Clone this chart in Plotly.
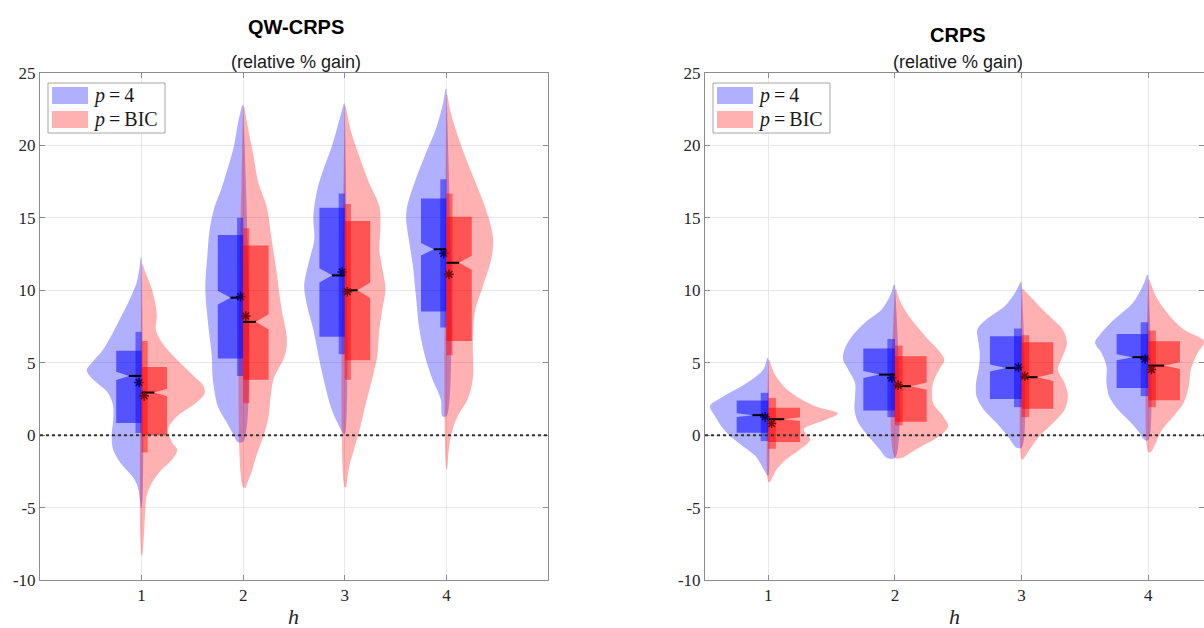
import plotly.graph_objects as go

W, H = 1204, 628

# ---------------- data ----------------
H_VALUES = [1, 2, 3, 4]
Y_TICKS = [-10, -5, 0, 5, 10, 15, 20, 25]
Y_TICK_TEXT = ["-10", "-5", "0", "5", "10", "15", "20", "25"]
X_TICK_TEXT = ["1", "2", "3", "4"]
PANEL_TITLES = ["QW-CRPS", "CRPS"]
SUBTITLE = "(relative % gain)"
SERIES_NAMES = ["<i>p</i>&#8201;=&#8201;4", "<i>p</i>&#8201;=&#8201;BIC"]

# --- QW-CRPS, p = 4 : violin outline (value levels, half-widths) ---
qw_p4_y = [
    [12.25, 11.45, 10.5, 9.4, 8.2, 7.1, 5.9, 5.0, 4.5, 4.0, 3.5, 3.0, 2.5, 2.0, 1.0, 0.0, -1.0, -2.0, -3.0, -3.7, -4.4, -5.0],
    [22.8, 21.6, 20.0, 18.35, 17.0, 15.8, 14.2, 12.4, 10.1, 7.8, 5.5, 3.9, 2.0, 0.9, -0.05, -0.45],
    [22.9, 21.6, 20.0, 18.35, 17.0, 15.1, 13.5, 11.9, 10.3, 8.9, 7.3, 5.5, 3.9, 2.0, 0.9, 0.07],
    [23.9, 22.7, 21.1, 19.5, 17.7, 15.8, 14.9, 13.5, 11.7, 9.6, 7.5, 5.7, 3.9, 2.5, 1.3],
]
qw_p4_w = [
    [0.01, 0.023, 0.05, 0.115, 0.2, 0.28, 0.38, 0.49, 0.54, 0.5, 0.42, 0.34, 0.3, 0.28, 0.28, 0.295, 0.28, 0.2, 0.076, 0.033, 0.018, 0.005],
    [0.01, 0.05, 0.09, 0.155, 0.215, 0.28, 0.33, 0.353, 0.373, 0.347, 0.31, 0.3, 0.25, 0.165, 0.09, 0.06],
    [0.01, 0.06, 0.125, 0.21, 0.27, 0.31, 0.3, 0.356, 0.4, 0.37, 0.31, 0.26, 0.21, 0.14, 0.076, 0.01],
    [0.01, 0.04, 0.105, 0.2, 0.3, 0.386, 0.396, 0.37, 0.33, 0.3, 0.27, 0.22, 0.14, 0.056, 0.04],
]
# --- QW-CRPS, p = BIC ---
qw_bic_y = [
    [11.8, 11.0, 10.1, 8.9, 8.2, 7.3, 6.4, 5.2, 4.1, 3.4, 2.9, 2.25, 1.3, 0.4, -0.5, -1.0, -1.7, -2.35, -3.3, -4.2, -5.6, -6.9, -8.3],
    [22.7, 21.1, 19.3, 17.4, 15.8, 13.5, 11.2, 8.9, 6.6, 5.5, 3.9, 2.7, 1.3, -0.05, -1.4, -2.6, -3.5, -3.6],
    [22.7, 21.1, 19.3, 17.4, 15.8, 14.2, 12.8, 11.45, 10.1, 8.7, 7.3, 5.5, 3.9, 2.0, 0.2, -1.0, -2.1, -3.5, -3.6],
    [23.5, 22.25, 20.4, 18.6, 16.7, 14.9, 13.5, 12.1, 10.3, 8.5, 6.2, 3.9, 2.5, 1.3, 0.2, -1.2, -2.35],
]
qw_bic_w = [
    [0.01, 0.05, 0.1, 0.14, 0.15, 0.14, 0.2, 0.35, 0.51, 0.61, 0.62, 0.54, 0.35, 0.26, 0.3, 0.35, 0.3, 0.2, 0.1, 0.05, 0.033, 0.023, 0.005],
    [0.01, 0.05, 0.1, 0.15, 0.23, 0.28, 0.33, 0.373, 0.43, 0.41, 0.3, 0.27, 0.25, 0.2, 0.13, 0.08, 0.03, 0.03],
    [0.01, 0.056, 0.14, 0.24, 0.34, 0.35, 0.34, 0.37, 0.4, 0.37, 0.34, 0.32, 0.27, 0.2, 0.14, 0.09, 0.046, 0.017, 0.015],
    [0.01, 0.043, 0.125, 0.22, 0.33, 0.42, 0.46, 0.44, 0.36, 0.28, 0.26, 0.26, 0.21, 0.11, 0.053, 0.02, 0.005],
]
# --- CRPS, p = 4 ---
cr_p4_y = [
    [5.33, 4.53, 3.6, 2.7, 2.0, 1.3, 0.6, -0.07, -0.76, -1.45, -2.14, -2.8],
    [10.39, 9.6, 8.67, 7.75, 6.83, 5.9, 5.2, 4.53, 3.6, 2.7, 1.77, 0.85, -0.07, -0.99, -1.56],
    [10.55, 9.8, 8.9, 7.98, 7.29, 6.37, 5.45, 4.53, 3.6, 2.69, 1.77, 0.85, -0.07, -0.76, -0.87],
    [11.08, 10.28, 9.13, 7.98, 7.06, 6.37, 5.68, 4.76, 3.6, 2.69, 1.77, 0.85, 0.16, -0.34],
]
cr_p4_w = [
    [0.01, 0.04, 0.17, 0.35, 0.46, 0.42, 0.37, 0.3, 0.2, 0.1, 0.05, 0.005],
    [0.01, 0.04, 0.105, 0.24, 0.34, 0.4, 0.41, 0.37, 0.315, 0.315, 0.32, 0.29, 0.21, 0.12, 0.066],
    [0.01, 0.055, 0.134, 0.28, 0.35, 0.34, 0.33, 0.34, 0.36, 0.357, 0.3, 0.2, 0.11, 0.055, 0.04],
    [0.01, 0.045, 0.123, 0.27, 0.37, 0.42, 0.37, 0.33, 0.33, 0.31, 0.24, 0.136, 0.07, 0.03],
]
# --- CRPS, p = BIC ---
cr_bic_y = [
    [5.17, 4.3, 3.38, 2.69, 2.0, 1.5, 1.08, 0.39, -0.3, -0.99, -1.68, -2.37, -3.24],
    [10.05, 9.13, 7.98, 6.83, 5.9, 5.2, 4.53, 3.6, 2.23, 1.31, 0.62, -0.07, -0.76, -1.45, -1.56],
    [10.1, 9.13, 8.2, 7.29, 6.37, 5.45, 4.53, 3.6, 2.69, 1.77, 0.85, -0.07, -0.99, -1.68],
    [10.74, 9.59, 8.44, 7.29, 6.48, 5.68, 4.53, 3.38, 2.23, 1.31, 0.39, -0.53, -1.17],
]
cr_bic_w = [
    [0.01, 0.045, 0.12, 0.22, 0.37, 0.55, 0.46, 0.28, 0.33, 0.25, 0.14, 0.066, 0.01],
    [0.01, 0.047, 0.13, 0.24, 0.34, 0.39, 0.35, 0.3, 0.3, 0.38, 0.42, 0.35, 0.21, 0.08, 0.06],
    [0.01, 0.115, 0.22, 0.325, 0.357, 0.325, 0.286, 0.34, 0.365, 0.34, 0.25, 0.14, 0.063, 0.01],
    [0.01, 0.06, 0.15, 0.28, 0.44, 0.39, 0.336, 0.32, 0.28, 0.2, 0.11, 0.06, 0.02],
]

# --- box statistics ---
qw_p4_q1 = [0.83, 5.29, 6.8, 8.53]
qw_p4_q3 = [5.82, 13.82, 15.7, 16.34]
qw_p4_med = [4.09, 9.49, 11.03, 12.83]
qw_p4_lo = [0.15, 4.09, 5.59, 7.43]
qw_p4_hi = [7.13, 15.01, 16.69, 17.66]
qw_p4_mean = [3.63, 9.56, 11.26, 12.55]
qw_p4_notch = [0.28, 0.47, 0.49, 0.43]

qw_bic_q1 = [0.0, 3.82, 5.17, 6.5]
qw_bic_q3 = [4.71, 13.1, 14.78, 15.08]
qw_bic_med = [2.94, 7.82, 10.0, 11.9]
qw_bic_lo = [-1.2, 2.2, 3.82, 5.52]
qw_bic_hi = [6.5, 14.28, 15.95, 16.69]
qw_bic_mean = [2.71, 8.23, 9.9, 11.1]
qw_bic_notch = [0.26, 0.52, 0.53, 0.48]

cr_p4_q1 = [0.16, 1.7, 2.5, 3.26]
cr_p4_q3 = [2.39, 5.98, 6.83, 6.99]
cr_p4_med = [1.38, 4.18, 4.64, 5.38]
cr_p4_lo = [-0.41, 1.24, 1.93, 2.69]
cr_p4_hi = [2.92, 6.64, 7.36, 7.79]
cr_p4_mean = [1.26, 3.95, 4.69, 5.26]
cr_p4_notch = [0.125, 0.24, 0.24, 0.21]

cr_bic_q1 = [-0.48, 0.92, 1.82, 2.41]
cr_bic_q3 = [1.89, 5.45, 6.41, 6.48]
cr_bic_med = [1.1, 3.38, 4.0, 4.8]
cr_bic_lo = [-0.94, 0.67, 1.24, 1.93]
cr_bic_hi = [2.57, 6.18, 6.9, 7.22]
cr_bic_mean = [0.8, 3.45, 4.07, 4.53]
cr_bic_notch = [0.13, 0.25, 0.26, 0.23]

# ---------------- styling ----------------
VIOLIN_COL = ["rgba(0,0,255,0.31)", "rgba(255,0,0,0.31)"]
BOX_COL = ["rgba(0,0,255,0.52)", "rgba(255,0,0,0.52)"]
BAR_COL = ["rgba(0,0,255,0.45)", "rgba(255,0,0,0.45)"]
MEAN_COL = ["rgb(10,10,110)", "rgb(120,10,10)"]
BOX_W = 0.25
BAR_W = 0.06
MEAN_OFF = 0.025
SERIF = "Liberation Serif, DejaVu Serif, serif"
SANS = "Liberation Sans, Arial, sans-serif"

fig = go.Figure()


def add_violin(c, ys, ws, sgn, col, xa, ya):
    xs = [c + sgn * w for w in ws] + [c, c]
    yy = list(ys) + [ys[-1], ys[0]]
    fig.add_trace(go.Scatter(x=xs, y=yy, mode="lines", fill="toself", fillcolor=col,
                             line=dict(width=0, shape="spline", smoothing=0.9),
                             hoverinfo="skip", showlegend=False, xaxis=xa, yaxis=ya))


def add_box(c, q1, q3, med, notch, lo, hi, mean, sgn, k, xa, ya):
    outer = c + sgn * BOX_W
    mid = c + sgn * BOX_W / 2
    fig.add_trace(go.Scatter(
        x=[c, outer, outer, mid, outer, outer, c, c],
        y=[q3, q3, med + notch, med, med - notch, q1, q1, q3],
        mode="lines", fill="toself", fillcolor=BOX_COL[k], line=dict(width=0),
        hoverinfo="skip", showlegend=False, xaxis=xa, yaxis=ya))
    bar = c + sgn * BAR_W
    fig.add_trace(go.Scatter(
        x=[c, bar, bar, c, c], y=[hi, hi, lo, lo, hi],
        mode="lines", fill="toself", fillcolor=BAR_COL[k], line=dict(width=0),
        hoverinfo="skip", showlegend=False, xaxis=xa, yaxis=ya))
    fig.add_trace(go.Scatter(
        x=[mid, c], y=[med, med], mode="lines", line=dict(color="black", width=2),
        hoverinfo="skip", showlegend=False, xaxis=xa, yaxis=ya))
    fig.add_trace(go.Scatter(
        x=[c + sgn * MEAN_OFF], y=[mean], mode="markers",
        marker=dict(symbol="asterisk-open", size=8, color=MEAN_COL[k],
                    line=dict(color=MEAN_COL[k], width=1.6)),
        hoverinfo="skip", showlegend=False, xaxis=xa, yaxis=ya))


panels = [
    ("x", "y", (qw_p4_y, qw_p4_w, qw_p4_q1, qw_p4_q3, qw_p4_med, qw_p4_notch, qw_p4_lo, qw_p4_hi, qw_p4_mean),
     (qw_bic_y, qw_bic_w, qw_bic_q1, qw_bic_q3, qw_bic_med, qw_bic_notch, qw_bic_lo, qw_bic_hi, qw_bic_mean)),
    ("x2", "y2", (cr_p4_y, cr_p4_w, cr_p4_q1, cr_p4_q3, cr_p4_med, cr_p4_notch, cr_p4_lo, cr_p4_hi, cr_p4_mean),
     (cr_bic_y, cr_bic_w, cr_bic_q1, cr_bic_q3, cr_bic_med, cr_bic_notch, cr_bic_lo, cr_bic_hi, cr_bic_mean)),
]

for xa, ya, s4, sb in panels:
    for k, (s, sgn) in enumerate([(s4, -1), (sb, 1)]):
        for i, c in enumerate(H_VALUES):
            add_violin(c, s[0][i], s[1][i], sgn, VIOLIN_COL[k], xa, ya)
    for k, (s, sgn) in enumerate([(s4, -1), (sb, 1)]):
        for i, c in enumerate(H_VALUES):
            add_box(c, s[2][i], s[3][i], s[4][i], s[5][i], s[6][i], s[7][i], s[8][i], sgn, k, xa, ya)

# ---------------- layout ----------------
def px(x):
    return x / W


def py(y):
    return 1 - y / H


YDOM = [py(580), py(73)]
axis_common = dict(showline=True, linecolor="#8c8c8c", linewidth=1, mirror="ticks",
                   ticks="inside", ticklen=5, tickcolor="#8c8c8c", showgrid=True,
                   gridcolor="#e8e8e8", gridwidth=1, zeroline=False, automargin=False,
                   tickfont=dict(family=SERIF, size=17, color="#262626"))

fig.update_layout(
    width=W, height=H, margin=dict(l=0, r=0, t=0, b=0, pad=0, autoexpand=False),
    autosize=False,
    paper_bgcolor="white", plot_bgcolor="white", showlegend=False,
    xaxis=dict(domain=[px(40), px(548)], range=[0, 5], tickvals=H_VALUES, ticktext=X_TICK_TEXT,
               anchor="y", **axis_common),
    yaxis=dict(domain=YDOM, range=[-10, 25], tickvals=Y_TICKS, ticktext=Y_TICK_TEXT,
               anchor="x", **axis_common),
    xaxis2=dict(domain=[px(705), 1.0], range=[0.5, 4.44], tickvals=H_VALUES, ticktext=X_TICK_TEXT,
                anchor="y2", **axis_common),
    yaxis2=dict(domain=YDOM, range=[-10, 25], tickvals=Y_TICKS, ticktext=Y_TICK_TEXT,
                anchor="x2", **axis_common),
)

shapes = []
annotations = []
for j, (xr, yr) in enumerate([("x", "y"), ("x2", "y2")]):
    # dotted zero line
    shapes.append(dict(type="line", xref=f"{xr} domain", yref=yr, x0=0, x1=1, y0=0, y1=0,
                       line=dict(color="#333333", width=2, dash="dot"), layer="above"))

# panel text and legends (pixel positions)
panel_left = [40, 705]
panel_center = [296, 958]
title_y = [27, 35]
for j in range(2):
    annotations.append(dict(text=f"<b>{PANEL_TITLES[j]}</b>", xref="paper", yref="paper",
                            x=px(panel_center[j]), y=py(title_y[j]), xanchor="center", yanchor="middle",
                            showarrow=False, font=dict(family=SANS, size=20, color="black")))
    annotations.append(dict(text=SUBTITLE, xref="paper", yref="paper",
                            x=px(panel_center[j]), y=py(62), xanchor="center", yanchor="middle",
                            showarrow=False, font=dict(family=SANS, size=18, color="#1a1a1a")))
    annotations.append(dict(text="<i>h</i>", xref="paper", yref="paper",
                            x=px(panel_center[j] - 3), y=py(616), xanchor="center", yanchor="middle",
                            showarrow=False, font=dict(family=SERIF, size=22, color="#262626")))
    L = panel_left[j]
    shapes.append(dict(type="rect", xref="paper", yref="paper",
                       x0=px(L + 8), x1=px(L + 125), y0=py(83), y1=py(133),
                       line=dict(color="#a6a6a6", width=1), fillcolor="white", layer="above"))
    for k, (y0, y1) in enumerate([(87, 104), (111, 128)]):
        shapes.append(dict(type="rect", xref="paper", yref="paper",
                           x0=px(L + 12), x1=px(L + 48), y0=py(y0), y1=py(y1),
                           line=dict(width=0), fillcolor=VIOLIN_COL[k], layer="above"))
        annotations.append(dict(text=SERIES_NAMES[k], xref="paper", yref="paper",
                                x=px(L + 51), y=py((y0 + y1) / 2), xanchor="left", yanchor="middle",
                                showarrow=False, font=dict(family=SERIF, size=20, color="#1a1a1a")))

fig.update_layout(shapes=shapes, annotations=annotations)
fig.write_html("out.html")
